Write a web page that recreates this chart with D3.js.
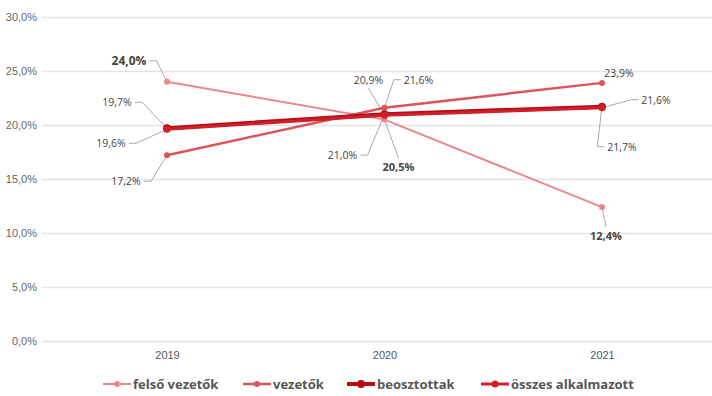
<!DOCTYPE html>
<html>
<head>
<meta charset="utf-8">
<script src="https://cdn.jsdelivr.net/npm/d3@7"></script>
<style>
  body { margin: 0; background: #fff; }
  svg { display: block; font-family: "Open Sans", sans-serif; }
</style>
</head>
<body>
<svg id="chart" width="712" height="396"></svg>
<script>
// data
const years = ['2019', '2020', '2021'];
const seriesNames = ['felső vezetők', 'vezetők', 'beosztottak', 'összes alkalmazott'];
const felsoVezetok = [24.0, 20.5, 12.4];
const vezetok = [17.2, 21.6, 23.9];
const beosztottak = [19.7, 21.0, 21.7];
const osszes = [19.6, 20.9, 21.6];
const yTicks = [0, 5, 10, 15, 20, 25, 30];

// styles per series
const colors = ['#e8878c', '#d8555c', '#b50d12', '#cf1f2b'];
const widths = [2, 2.5, 4, 3];
const radii = [3, 3, 4, 3.5];
const bold = [true, false, false, false];

// label placement: [dx, dy] of label centre from the point
const labelPos = [
  [[-38, -21], [14, 47], [4, 28]],
  [[-41, 26], [34, -28], [17, -10]],
  [[-50, -26], [-42, 41], [20, 40]],
  [[-56, 14], [-16, -35], [54, -8]]
];

const svg = d3.select('#chart');
const fmt = v => d3.format('.1f')(v).replace('.', ',') + '%';

const x = d3.scalePoint().domain(years).range([167, 602]);
const y = d3.scaleLinear().domain([0, 30]).range([341, 17]);

// gridlines + y labels
const yAxis = svg.append('g')
  .attr('transform', 'translate(42,0)')
  .call(d3.axisLeft(y).tickValues(yTicks).tickSize(-670).tickPadding(5)
    .tickFormat(d => d3.format('.1f')(d).replace('.', ',') + '%'));
yAxis.select('.domain').remove();
yAxis.selectAll('line').attr('stroke', '#e3e3e3').attr('stroke-width', 1.5);
yAxis.selectAll('text').attr('fill', '#666').attr('font-size', 11);

// x labels
const xAxis = svg.append('g')
  .attr('transform', 'translate(0,341)')
  .call(d3.axisBottom(x).tickSize(0).tickPadding(10));
xAxis.select('.domain').remove();
xAxis.selectAll('text').attr('fill', '#555').attr('font-size', 11);

const series = [felsoVezetok, vezetok, beosztottak, osszes].map((vals, i) => ({
  name: seriesNames[i],
  values: vals.map((v, j) => ({ year: years[j], value: v }))
}));

const line = d3.line().x(d => x(d.year)).y(d => y(d.value));

const leaderG = svg.append('g');
const labelG = svg.append('g');
const lineG = svg.append('g');

// leader lines and labels
series.forEach((s, i) => {
  s.values.forEach((d, j) => {
    const px = x(d.year), py = y(d.value);
    const [dx, dy] = labelPos[i][j];
    const lx = px + dx, ly = py + dy;
    const t = labelG.append('text')
      .attr('x', lx).attr('y', ly)
      .attr('text-anchor', 'middle')
      .attr('dominant-baseline', 'central')
      .attr('font-size', bold[i] ? (j == 0 ? 12 : 11) : 10.5)
      .attr('font-weight', bold[i] ? 700 : 400)
      .attr('fill', '#444')
      .text(fmt(d.value));
    const bb = t.node().getBBox();
    if (Math.abs(dx) > bb.width / 2 + 4) {
      const ex = dx < 0 ? bb.x + bb.width + 3 : bb.x - 3;
      const hx = dx < 0 ? ex + 7 : ex - 7;
      leaderG.append('polyline')
        .attr('points', [[ex, ly], [hx, ly], [px, py]].join(' '))
        .attr('fill', 'none').attr('stroke', '#aaa').attr('stroke-width', 1);
    } else if (Math.abs(dy) > 20) {
      const ey = dy < 0 ? bb.y + bb.height + 1 : bb.y - 1;
      leaderG.append('line')
        .attr('x1', lx).attr('y1', ey).attr('x2', px).attr('y2', py)
        .attr('stroke', '#aaa').attr('stroke-width', 1);
    }
  });
});

// lines and markers
series.forEach((s, i) => {
  lineG.append('path')
    .datum(s.values)
    .attr('fill', 'none')
    .attr('stroke', colors[i])
    .attr('stroke-width', widths[i])
    .attr('d', line);
  lineG.selectAll(null)
    .data(s.values)
    .join('circle')
    .attr('cx', d => x(d.year))
    .attr('cy', d => y(d.value))
    .attr('r', radii[i])
    .attr('fill', colors[i]);
});

// legend
const legendX = [103, 243, 347, 481];
const legend = svg.append('g').attr('transform', 'translate(0,384)');
seriesNames.forEach((name, i) => {
  const g = legend.append('g').attr('transform', `translate(${legendX[i]},0)`);
  g.append('line').attr('x1', 0).attr('x2', 28)
    .attr('stroke', colors[i]).attr('stroke-width', widths[i]);
  g.append('circle').attr('cx', 14).attr('r', radii[i]).attr('fill', colors[i]);
  g.append('text').attr('x', 30).attr('dominant-baseline', 'central')
    .attr('font-size', 13).attr('font-weight', 700).attr('fill', '#555')
    .text(name);
});
</script>
</body>
</html>
